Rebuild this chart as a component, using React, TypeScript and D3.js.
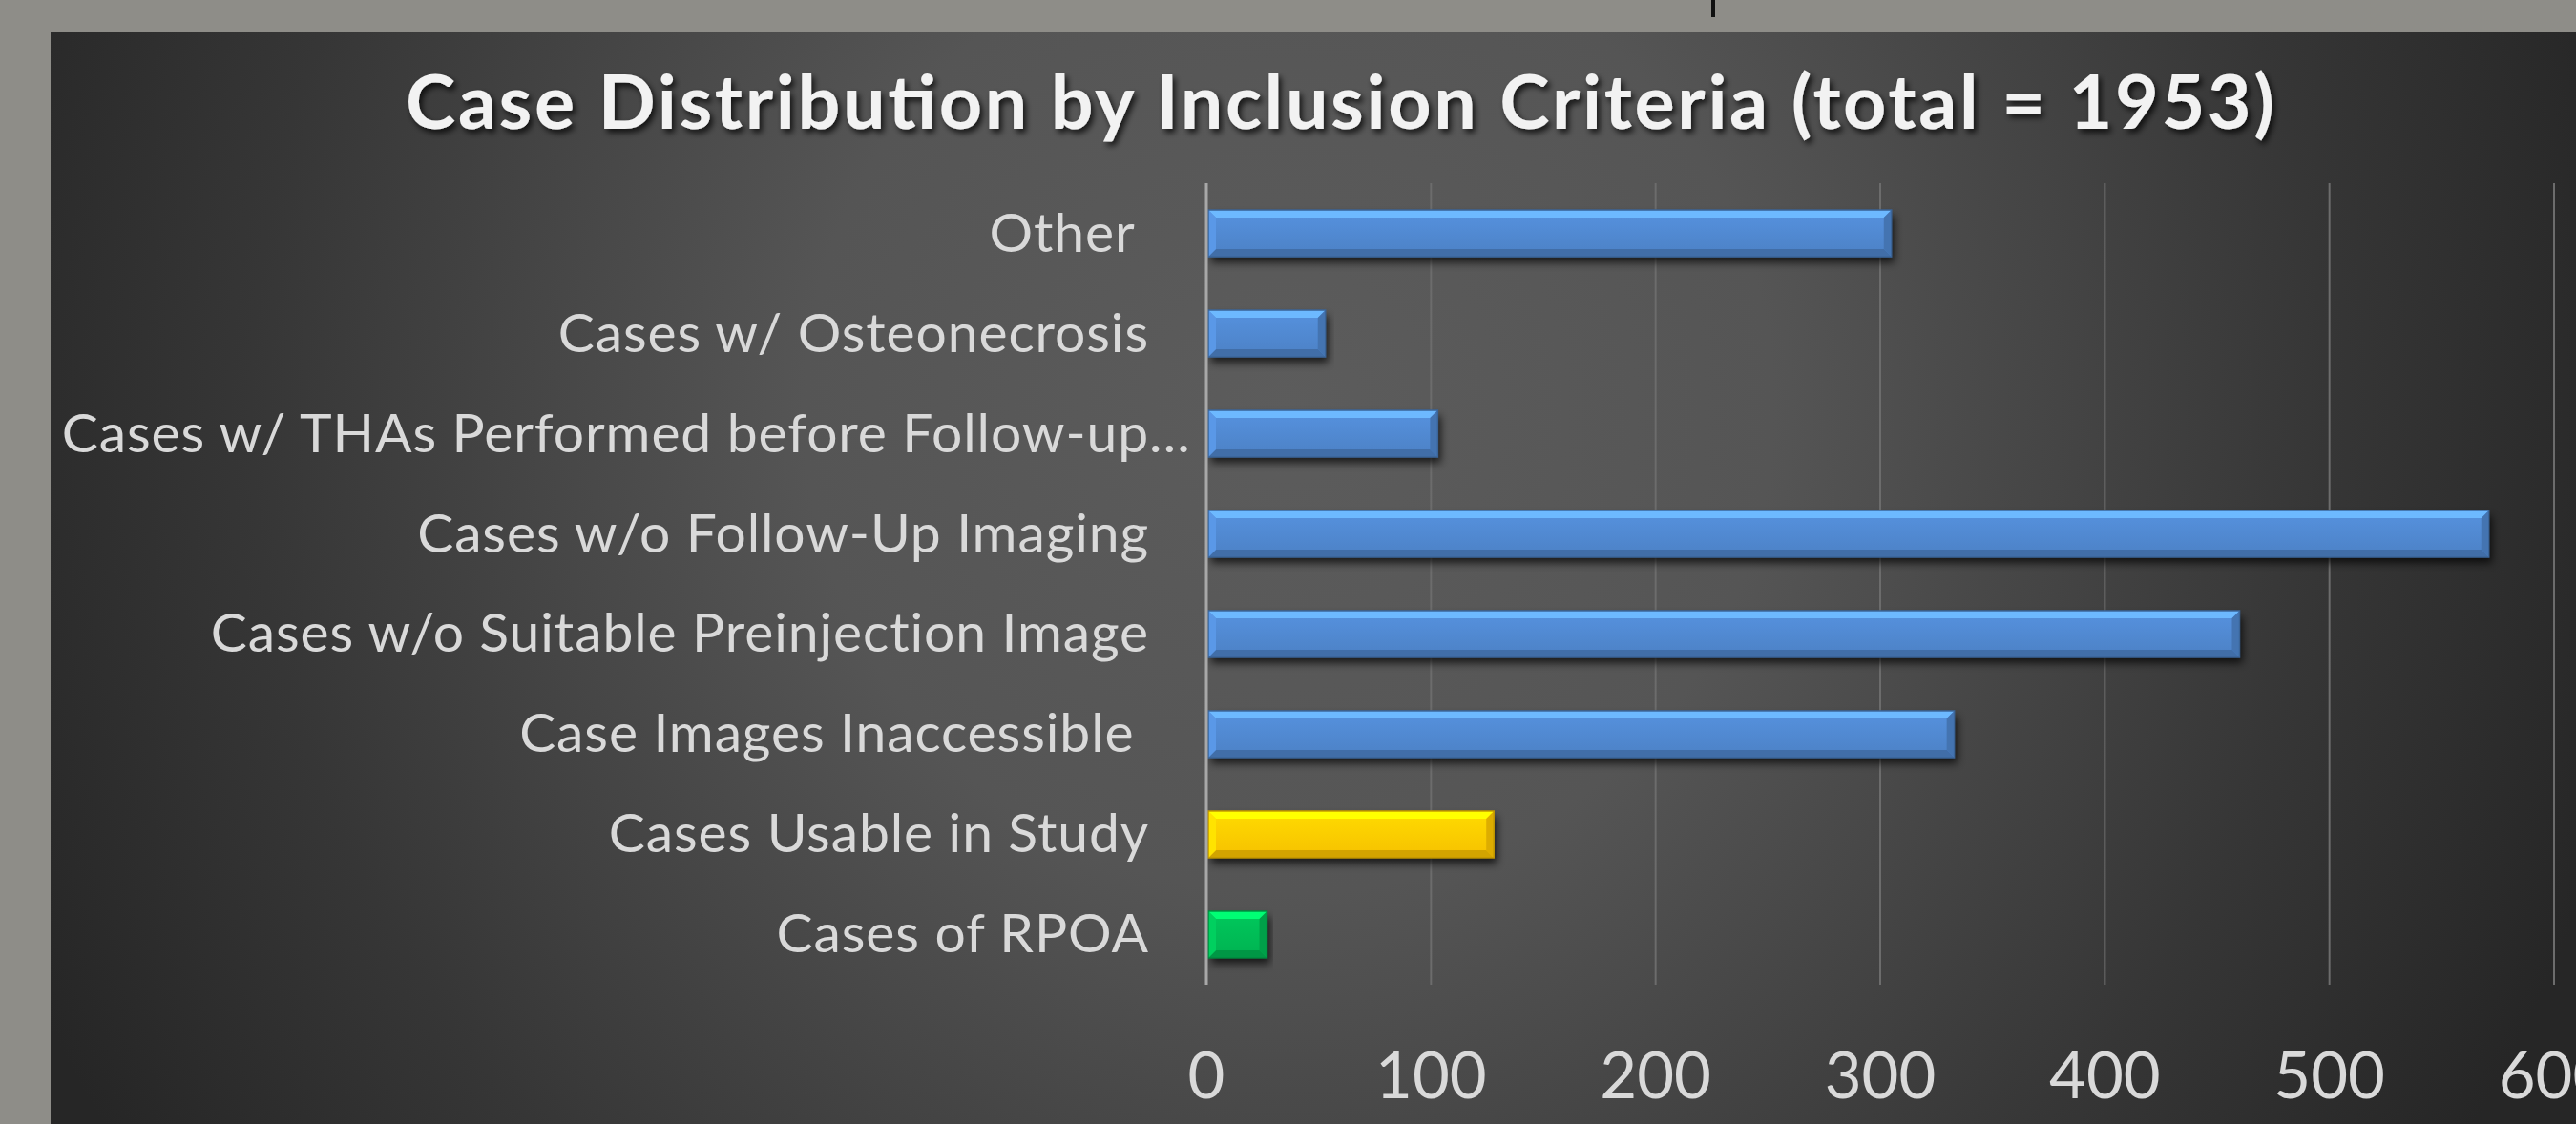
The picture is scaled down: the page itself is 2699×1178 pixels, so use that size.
import * as d3 from "d3";

// categories listed top to bottom as they appear in the chart
const categories = [
  "Other ",
  "Cases w/ Osteonecrosis",
  "Cases w/ THAs Performed before Follow-up…",
  "Cases w/o Follow-Up Imaging",
  "Cases w/o Suitable Preinjection Image",
  "Case Images Inaccessible ",
  "Cases Usable in Study",
  "Cases of RPOA",
];
const counts = [305, 53, 103, 571, 460, 333, 128, 27];
const barColors = [
  "#4f86cc", "#4f86cc", "#4f86cc", "#4f86cc",
  "#4f86cc", "#4f86cc", "#ffc800", "#00b854",
];
const xTicks = [0, 100, 200, 300, 400, 500, 600];
const title = "Case Distribution by Inclusion Criteria (total = 1953)";

const W = 2699;
const H = 1178;
const panel = { x: 53, y: 34 };
const plot = { left: 1264, right: 2676, top: 192, bottom: 1032 };
const labelX = 1204;
const FONT = "Lato, 'Open Sans', sans-serif";

function shade(c: string, k: number) {
  const col = d3.color(c)!;
  return (k > 0 ? col.brighter(k) : col.darker(-k)).formatHex();
}

export default function App() {
  const x = d3.scaleLinear().domain([0, 600]).range([plot.left, plot.right]);
  const y = d3
    .scaleBand<string>()
    .domain(categories)
    .range([plot.top, plot.bottom])
    .paddingInner(0.533)
    .paddingOuter(0.267);
  const bw = y.bandwidth();
  const bev = 8;

  return (
    <svg
      width={W}
      height={H}
      style={{ position: "absolute", left: 0, top: 0, display: "block" }}
      fontFamily={FONT}
    >
      <defs>
        <radialGradient id="bg" gradientUnits="userSpaceOnUse" cx={1350} cy={430} r={1450}>
          <stop offset="0" stopColor="#5c5c5c" />
          <stop offset="0.35" stopColor="#555555" />
          <stop offset="0.75" stopColor="#363636" />
          <stop offset="1" stopColor="#262626" />
        </radialGradient>
        <filter id="tshadow" x="-5%" y="-20%" width="110%" height="160%">
          <feDropShadow dx="3" dy="4" stdDeviation="3" floodColor="#000" floodOpacity="0.75" />
        </filter>
        <filter id="bshadow" x="-5%" y="-30%" width="110%" height="180%">
          <feGaussianBlur stdDeviation="4" />
        </filter>
        {barColors.map((c, i) => (
          <linearGradient key={i} id={`face${i}`} x1="0" y1="0" x2="0" y2="1">
            <stop offset="0" stopColor={shade(c, 0.25)} />
            <stop offset="1" stopColor={shade(c, -0.1)} />
          </linearGradient>
        ))}
      </defs>

      <rect x={0} y={0} width={W} height={H} fill="#8e8d88" />
      <rect x={1793} y={0} width={4} height={18} fill="#111" />
      <rect x={panel.x} y={panel.y} width={W - panel.x} height={H - panel.y} fill="url(#bg)" />

      <text
        x={1404}
        y={135}
        textAnchor="middle"
        fontSize={79}
        fontWeight={700}
        fill="#f2f2f2"
        filter="url(#tshadow)"
        textLength={1958}
        lengthAdjust="spacing"
      >
        {title}
      </text>

      {/* gridlines */}
      {xTicks.slice(1).map((t) => (
        <line
          key={t}
          x1={x(t)}
          x2={x(t)}
          y1={plot.top}
          y2={plot.bottom}
          stroke="#6c6c6c"
          strokeWidth={2}
        />
      ))}

      {/* bars */}
      {categories.map((c, i) => {
        const x0 = x(0) + 2;
        const x1 = x(counts[i]);
        const y0 = y(c)!;
        const y1 = y0 + bw;
        const col = barColors[i];
        return (
          <g key={c}>
            <rect x={x0 + 3} y={y0 + 6} width={x1 - x0} height={bw} fill="#000" opacity={0.7} filter="url(#bshadow)" />
            <rect x={x0} y={y0} width={x1 - x0} height={bw} fill={`url(#face${i})`} />
            <polygon
              points={`${x0},${y0} ${x1},${y0} ${x1 - bev},${y0 + bev} ${x0 + bev},${y0 + bev}`}
              fill={shade(col, 0.9)}
            />
            <polygon
              points={`${x0},${y1} ${x1},${y1} ${x1 - bev},${y1 - bev} ${x0 + bev},${y1 - bev}`}
              fill={shade(col, -0.55)}
            />
            <polygon
              points={`${x0},${y0} ${x0 + bev},${y0 + bev} ${x0 + bev},${y1 - bev} ${x0},${y1}`}
              fill={shade(col, 0.35)}
            />
            <polygon
              points={`${x1},${y0} ${x1 - bev},${y0 + bev} ${x1 - bev},${y1 - bev} ${x1},${y1}`}
              fill={shade(col, -0.4)}
            />
            <rect x={x0} y={y0} width={x1 - x0} height={bw} fill="none" stroke={shade(col, -0.8)} strokeWidth={1.5} />
          </g>
        );
      })}

      {/* zero axis line */}
      <line x1={x(0)} x2={x(0)} y1={plot.top} y2={plot.bottom} stroke="#a8a8a8" strokeWidth={3} />

      {/* category labels */}
      {categories.map((c) => {
        const cy = y(c)! + bw / 2 + 19;
        const trunc = c.endsWith("…");
        const main = trunc ? c.slice(0, -1) : c;
        return (
          <g key={c} fontSize={57} fill="#d9d9d9" letterSpacing={0.9}>
            <text x={labelX} y={cy} textAnchor="end" style={{ whiteSpace: "pre" }}>
              {main}
            </text>
            {trunc && (
              <text x={labelX} y={cy}>
                …
              </text>
            )}
          </g>
        );
      })}

      {/* x tick labels */}
      {xTicks.map((t) => (
        <text key={t} x={x(t)} y={1151} textAnchor="middle" fontSize={67} fill="#d9d9d9">
          {t}
        </text>
      ))}
    </svg>
  );
}
